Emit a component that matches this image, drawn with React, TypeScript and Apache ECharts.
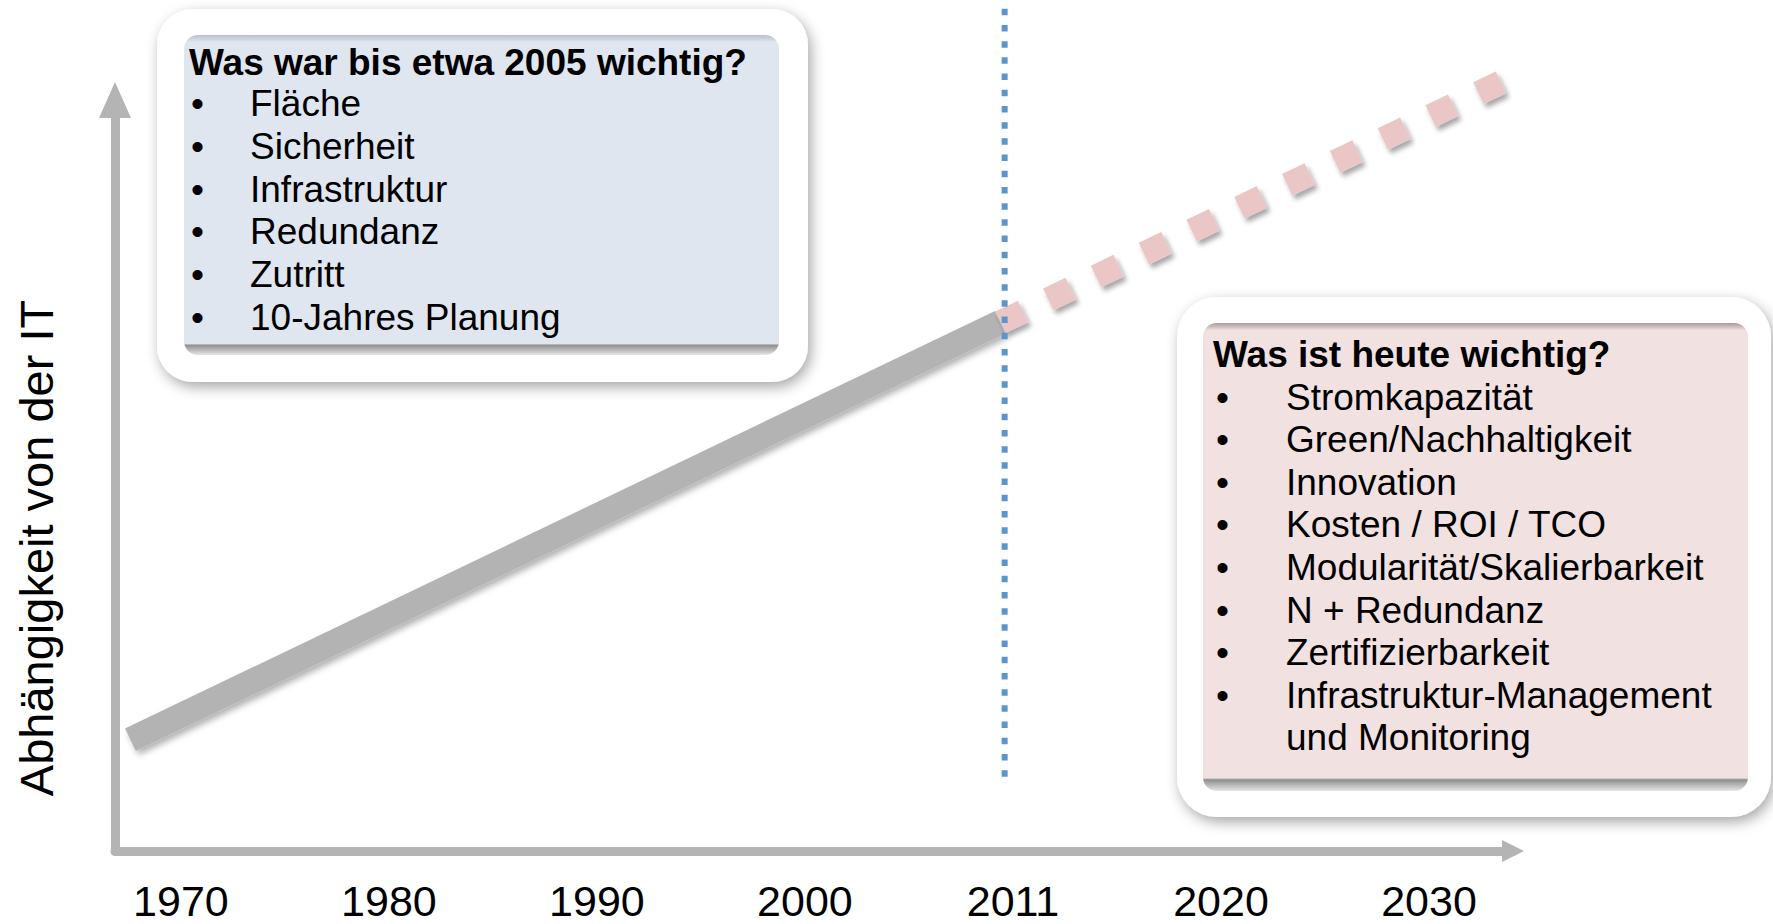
import React, { useEffect, useRef } from "react";
import * as echarts from "echarts";

// ---- data ----
const years = ["1970", "1980", "1990", "2000", "2011", "2020", "2030"];
const yearSlots = [0, 1, 2, 3, 4, 5, 6];
const trendX = [-0.243, 3.94];
const trendY = [14.8, 70.4];
const forecastX = [3.94, 6.35];
const forecastY = [70.4, 102.4];
const dividerX = [3.96, 3.96];
const dividerY = [9.9, 112.2];
const yAxisName = "Abhängigkeit von der IT";
const pastTitle = "Was war bis etwa 2005 wichtig?";
const pastTopics = ["Fläche", "Sicherheit", "Infrastruktur", "Redundanz", "Zutritt", "10-Jahres Planung"];
const todayTitle = "Was ist heute wichtig?";
const todayTopics = [
  "Stromkapazität",
  "Green/Nachhaltigkeit",
  "Innovation",
  "Kosten / ROI / TCO",
  "Modularität/Skalierbarkeit",
  "N + Redundanz",
  "Zertifizierbarkeit",
  "Infrastruktur-Management\nund Monitoring",
];

const FONT = "'Liberation Sans', Arial, sans-serif";

function panelFill(main: string, top: string, bandStart: number, topEnd: number) {
  return {
    type: "linear",
    x: 0,
    y: 0,
    x2: 0,
    y2: 1,
    colorStops: [
      { offset: 0, color: top },
      { offset: topEnd, color: main },
      { offset: bandStart, color: main },
      { offset: bandStart + 0.004, color: "#8f8f8f" },
      { offset: 1, color: "#e6e6e6" },
    ],
  };
}

function buildBox(cfg: any, title: string, items: string[]) {
  const els: any[] = [];
  els.push({
    type: "rect",
    shape: { x: cfg.ox, y: cfg.oy, width: cfg.ow, height: cfg.oh, r: cfg.or },
    style: {
      fill: "#ffffff",
      shadowBlur: 14,
      shadowColor: "rgba(0,0,0,0.35)",
      shadowOffsetX: 3,
      shadowOffsetY: 5,
    },
    z: 10,
  });
  els.push({
    type: "rect",
    shape: { x: cfg.px, y: cfg.py, width: cfg.pw, height: cfg.ph, r: 14 },
    style: { fill: panelFill(cfg.main, cfg.topShade, cfg.band, cfg.topEnd) },
    z: 11,
  });
  els.push({
    type: "text",
    x: cfg.titleX,
    y: cfg.titleY,
    style: {
      text: title,
      fontSize: 37,
      fontWeight: "bold",
      fontFamily: FONT,
      fill: "#000",
      align: "left",
      verticalAlign: "middle",
    },
    z: 12,
  });
  let row = 0;
  items.forEach((it) => {
    const lines = it.split("\n");
    els.push({
      type: "text",
      x: cfg.bulletX,
      y: cfg.firstY + row * cfg.step,
      style: { text: "•", fontSize: 37, fontFamily: FONT, fill: "#000", align: "left", verticalAlign: "middle" },
      z: 12,
    });
    lines.forEach((ln) => {
      els.push({
        type: "text",
        x: cfg.textX,
        y: cfg.firstY + row * cfg.step,
        style: { text: ln, fontSize: 37, fontFamily: FONT, fill: "#000", align: "left", verticalAlign: "middle" },
        z: 12,
      });
      row++;
    });
  });
  return els;
}

export default function App() {
  const ref = useRef<HTMLDivElement>(null);
  useEffect(() => {
    if (!ref.current) return;
    const chart = echarts.init(ref.current, null, { renderer: "svg" });
    const box1 = buildBox(
      {
        ox: 157, oy: 9, ow: 651, oh: 373, or: 36,
        px: 184, py: 35, pw: 595, ph: 320,
        main: "#dfe6f0", topShade: "#b9c0ca", band: 0.965, topEnd: 0.022,
        titleX: 189, titleY: 62, bulletX: 191, textX: 250, firstY: 103.5, step: 42.8,
      },
      pastTitle,
      pastTopics
    );
    const box2 = buildBox(
      {
        ox: 1177, oy: 297, ow: 594, oh: 520, or: 40,
        px: 1203, py: 323, pw: 545, ph: 468,
        main: "#f2e1e1", topShade: "#a99b9b", band: 0.972, topEnd: 0.016,
        titleX: 1213, titleY: 354, bulletX: 1216, textX: 1286, firstY: 397, step: 42.6,
      },
      todayTitle,
      todayTopics
    );
    const axisTitle = {
      type: "text",
      x: 36,
      y: 548,
      rotation: Math.PI / 2,
      style: {
        text: yAxisName,
        fontSize: 47,
        fontFamily: FONT,
        fill: "#000",
        align: "center",
        verticalAlign: "middle",
      },
      z: 5,
    };
    chart.setOption({
      animation: false,
      backgroundColor: "#ffffff",
      grid: { left: 115, right: 260, top: 100, bottom: 73 },
      xAxis: {
        type: "value",
        min: -0.317,
        max: 6.404,
        splitLine: { show: false },
        axisTick: { show: false },
        axisLine: {
          show: true,
          onZero: false,
          symbol: ["none", "triangle"],
          symbolSize: [22, 22],
          lineStyle: { color: "#b4b4b4", width: 9 },
        },
        axisLabel: {
          customValues: yearSlots,
          formatter: (v: number) => years[yearSlots.indexOf(Math.round(v))] ?? "",
          fontSize: 43,
          lineHeight: 43,
          color: "#000",
          fontFamily: FONT,
          margin: 28,
        },
      },
      yAxis: {
        type: "value",
        min: 0,
        max: 100,
        splitLine: { show: false },
        axisTick: { show: false },
        axisLabel: { show: false },
        axisLine: {
          show: true,
          onZero: false,
          symbol: ["none", "triangle"],
          symbolSize: [32, 36],
          lineStyle: { color: "#b4b4b4", width: 9 },
        },
      },
      series: [
        {
          type: "line",
          data: trendX.map((x, i) => [x, trendY[i]]),
          symbol: "none",
          clip: false,
          lineStyle: {
            color: "#b3b3b3",
            width: 25,
            cap: "butt",
            shadowColor: "rgba(0,0,0,0.3)",
            shadowBlur: 6,
            shadowOffsetX: 3,
            shadowOffsetY: 4,
          },
          z: 2,
        },
        {
          type: "line",
          data: forecastX.map((x, i) => [x, forecastY[i]]),
          symbol: "none",
          clip: false,
          lineStyle: {
            color: "#ebc6c6",
            width: 24,
            type: [25, 28],
            cap: "butt",
            shadowColor: "rgba(0,0,0,0.35)",
            shadowBlur: 5,
            shadowOffsetX: 3,
            shadowOffsetY: 4,
          },
          z: 2,
        },
        {
          type: "line",
          data: dividerX.map((x, i) => [x, dividerY[i]]),
          symbol: "none",
          clip: false,
          lineStyle: { color: "#5b95d0", width: 6, type: [6.5, 9.7], cap: "butt" },
          z: 3,
        },
      ],
      graphic: [axisTitle, ...box1, ...box2],
    });
    return () => chart.dispose();
  }, []);
  return <div ref={ref} style={{ position: "fixed", left: 0, top: 0, width: "1773px", height: "924px" }} />;
}
